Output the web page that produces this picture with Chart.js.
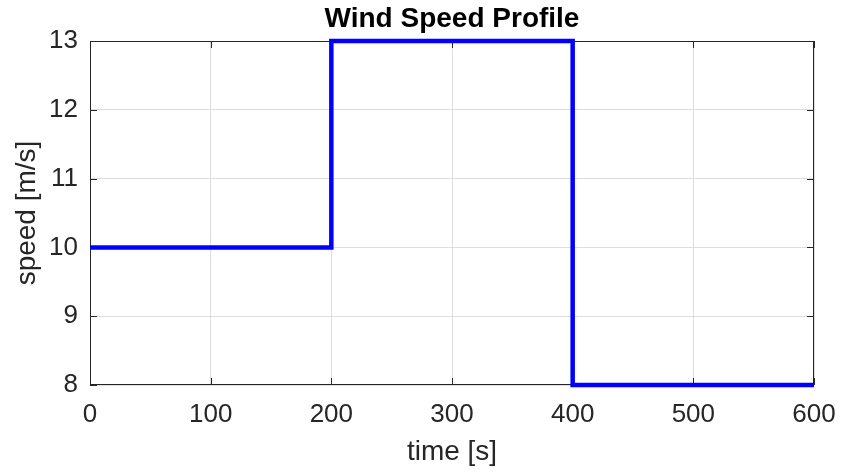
<!DOCTYPE html>
<html>
<head>
<meta charset="utf-8">
<script src="https://cdn.jsdelivr.net/npm/chart.js@4/dist/chart.umd.min.js"></script>
<style>
    html, body { margin: 0; padding: 0; background: #fff; }
    #wrap { width: 841px; height: 475px; }
</style>
</head>
<body>
<div id="wrap"><canvas id="myChart" width="841" height="475"></canvas></div>
<script>
// step points (value holds until the next time)
const stepTimes = [0, 200, 400, 600];
const speeds = [10, 13, 8, 8];
const xTicks = [0, 100, 200, 300, 400, 500, 600];
const yTicks = [8, 9, 10, 11, 12, 13];

const axisColor = '#262626';
const gridColor = '#dedede';

// box around the plot + inward ticks on all four sides
const boxPlugin = {
    id: 'box',
    beforeDatasetsDraw(chart) {
        const { ctx, chartArea: a, scales } = chart;
        const len = 7;
        ctx.save();
        ctx.strokeStyle = axisColor;
        ctx.lineWidth = 1;
        ctx.beginPath();
        ctx.rect(a.left + 0.5, a.top + 0.5, a.right - a.left - 1, a.bottom - a.top - 1);
        xTicks.forEach(v => {
            const px = Math.round(scales.x.getPixelForValue(v)) + 0.5;
            ctx.moveTo(px, a.bottom); ctx.lineTo(px, a.bottom - len);
            ctx.moveTo(px, a.top); ctx.lineTo(px, a.top + len);
        });
        yTicks.forEach(v => {
            const py = Math.round(scales.y.getPixelForValue(v)) + 0.5;
            ctx.moveTo(a.left, py); ctx.lineTo(a.left + len, py);
            ctx.moveTo(a.right, py); ctx.lineTo(a.right - len, py);
        });
        ctx.stroke();
        ctx.restore();
    }
};

document.addEventListener('DOMContentLoaded', () => {
    const ctx = document.getElementById('myChart').getContext('2d');
    new Chart(ctx, {
        type: 'line',
        data: {
            datasets: [{
                label: 'speed',
                data: stepTimes.map((t, i) => ({ x: t, y: speeds[i] })),
                stepped: 'before',
                borderColor: '#0000ff',
                backgroundColor: '#0000ff',
                borderWidth: 4.5,
                pointRadius: 0,
                fill: false,
                clip: 4
            }]
        },
        options: {
            responsive: false,
            animation: false,
            events: [],
            layout: {
                padding: { left: 0, right: 27, top: 0, bottom: 0 }
            },
            plugins: {
                legend: { display: false },
                tooltip: { enabled: false },
                title: {
                    display: true,
                    text: 'Wind Speed Profile',
                    fullSize: false,
                    color: '#000',
                    font: { family: 'Liberation Sans, Arial, sans-serif', size: 28, weight: 'bold' },
                    padding: { top: 2, bottom: 5.4 }
                }
            },
            scales: {
                x: {
                    type: 'linear',
                    min: 0,
                    max: 600,
                    afterFit: s => { s.height = 90; s.paddingLeft = 0; s.paddingRight = 0; },
                    afterBuildTicks: s => { s.ticks = xTicks.map(v => ({ value: v })); },
                    ticks: {
                        color: axisColor,
                        padding: 14,
                        maxRotation: 0,
                        font: { family: 'Liberation Sans, Arial, sans-serif', size: 26 }
                    },
                    grid: {
                        color: gridColor,
                        drawTicks: false
                    },
                    border: { display: false },
                    title: {
                        display: true,
                        text: 'time [s]',
                        color: axisColor,
                        padding: { top: 0, bottom: 6 },
                        font: { family: 'Liberation Sans, Arial, sans-serif', size: 28 }
                    }
                },
                y: {
                    min: 8,
                    max: 13,
                    afterFit: s => { s.width = 90; s.paddingTop = 0; s.paddingBottom = 0; },
                    afterBuildTicks: s => { s.ticks = yTicks.map(v => ({ value: v })); },
                    ticks: {
                        color: axisColor,
                        padding: 12,
                        font: { family: 'Liberation Sans, Arial, sans-serif', size: 26 }
                    },
                    grid: {
                        color: gridColor,
                        drawTicks: false
                    },
                    border: { display: false },
                    title: {
                        display: true,
                        text: 'speed [m/s]',
                        color: axisColor,
                        padding: { top: 10, bottom: 0 },
                        font: { family: 'Liberation Sans, Arial, sans-serif', size: 28 }
                    }
                }
            }
        },
        plugins: [boxPlugin]
    });
});
</script>
</body>
</html>
